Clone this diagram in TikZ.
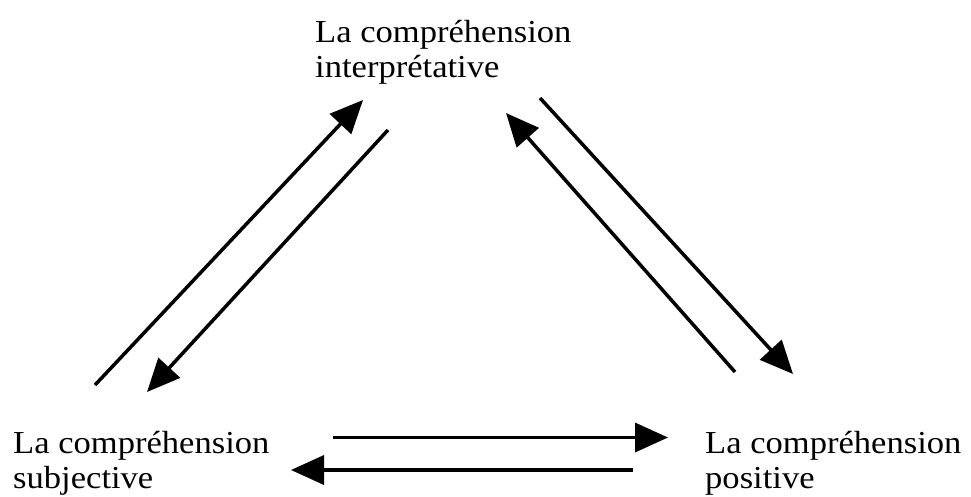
\documentclass[tikz,border=0pt]{standalone}
\usepackage{fontspec}
\setmainfont{Liberation Serif}[FakeStretch=1.08]
\usetikzlibrary{arrows.meta}

\tikzset{
  label text/.style={inner sep=0pt, anchor=base west,
    font=\fontsize{32}{35}\selectfont},
  flow/.style={line width=3.5pt, -{Triangle[length=33pt, width=29pt]}},
}

% two-line label whose baseline is that of the first line
\newcommand{\twolines}[2]{\begin{tabular}[t]{@{}l@{}}#1\\#2\end{tabular}}

\begin{document}
\begin{tikzpicture}[x=1pt, y=-1pt]
  \useasboundingbox (0,0) rectangle (971,496);

  % the three kinds of understanding
  \node[label text] (interp) at (315,42)
    {\twolines{La compréhension}{interprétative}};
  \node[label text] (subj) at (13,453)
    {\twolines{La compréhension}{subjective}};
  \node[label text] (posit) at (705,453)
    {\twolines{La compréhension}{positive}};

  % end points of the paired arrows
  \coordinate (s1) at (95,385);   \coordinate (t1) at (363,100);
  \coordinate (s2) at (388,130);  \coordinate (t2) at (147,392);
  \coordinate (s3) at (540,98);   \coordinate (t3) at (793,374);
  \coordinate (s4) at (735,372);  \coordinate (t4) at (506,113);
  \coordinate (s5) at (333,437.5);\coordinate (t5) at (668,437.5);
  \coordinate (s6) at (633,470);  \coordinate (t6) at (291,470);

  % subjective <-> interpretative
  \draw[flow] (s1) -- (t1);
  \draw[flow] (s2) -- (t2);
  % interpretative <-> positive
  \draw[flow] (s3) -- (t3);
  \draw[flow] (s4) -- (t4);
  % subjective <-> positive
  \draw[flow] (s5) -- (t5);
  \draw[flow] (s6) -- (t6);
\end{tikzpicture}
\end{document}
